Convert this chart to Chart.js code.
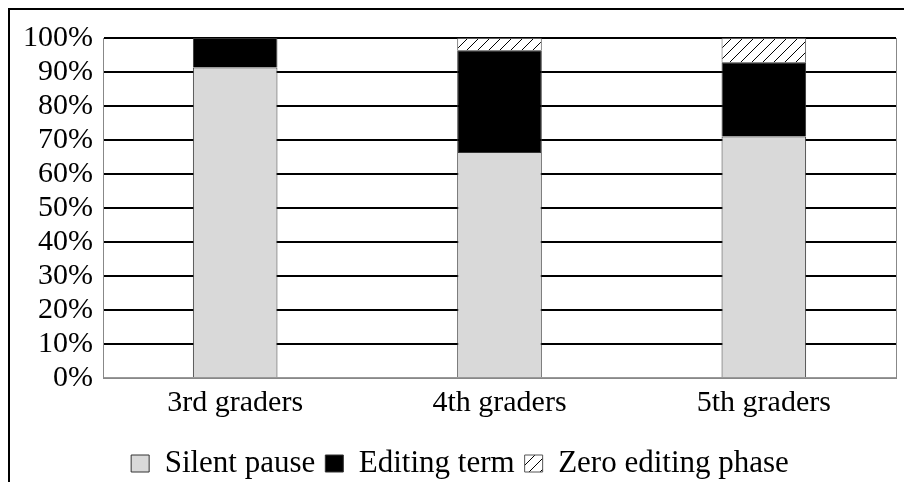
<!DOCTYPE html>
<html>
<head>
<meta charset="utf-8">
<script src="https://cdn.jsdelivr.net/npm/chart.js@4"></script>
<style>
  html, body { margin: 0; padding: 0; background: #fff; overflow: hidden; }
  #cadre { position: absolute; left: 8px; top: 8px; width: 1000px; height: 600px; border: 2px solid #000; }
  #zone { position: absolute; left: 0; top: 0; width: 904px; height: 482px; }
</style>
</head>
<body>
<div id="cadre"></div>
<div id="zone"><canvas id="graphique"></canvas></div>
<script>
'use strict';

/* === DONNÉES === */
const CATEGORIES = ['3rd graders', '4th graders', '5th graders'];
const SILENT_PAUSE = [91.3, 66.5, 71.0];
const EDITING_TERM = [8.7, 29.9, 21.9];
const ZERO_EDITING = [0, 3.6, 7.1];
const TICKS_Y = [0, 10, 20, 30, 40, 50, 60, 70, 80, 90, 100];

const POLICE = '"Liberation Serif", "Times New Roman", serif';

/* === HELPERS === */
function motifHachure() {
  const c = document.createElement('canvas');
  c.width = 11;
  c.height = 11;
  const g = c.getContext('2d');
  g.fillStyle = '#fff';
  g.fillRect(0, 0, 11, 11);
  g.strokeStyle = '#000';
  g.lineWidth = 1;
  g.beginPath();
  g.moveTo(0, 11); g.lineTo(11, 0);
  g.moveTo(-3, 3); g.lineTo(3, -3);
  g.moveTo(8, 14); g.lineTo(14, 8);
  g.stroke();
  return g.createPattern(c, 'repeat');
}

/* === GRAPHIQUE === */
Chart.defaults.font.family = POLICE;
Chart.defaults.color = '#000';

const ctx = document.getElementById('graphique').getContext('2d');
new Chart(ctx, {
  type: 'bar',
  data: {
    labels: CATEGORIES,
    datasets: [
      { label: 'Silent pause', data: SILENT_PAUSE, backgroundColor: '#d9d9d9', borderColor: '#333', borderWidth: 1 },
      { label: 'Editing term', data: EDITING_TERM, backgroundColor: '#000', borderColor: '#333', borderWidth: 1 },
      { label: 'Zero editing phase', data: ZERO_EDITING, backgroundColor: motifHachure(), borderColor: '#555', borderWidth: 1 }
    ]
  },
  options: {
    responsive: true,
    maintainAspectRatio: false,
    animation: false,
    categoryPercentage: 1,
    barPercentage: 0.32,
    layout: { padding: { left: 23, right: 7, top: 38, bottom: -7 } },
    plugins: {
      tooltip: { enabled: false },
      legend: {
        position: 'bottom',
        labels: {
          font: { size: 31 },
          boxWidth: 18,
          boxHeight: 17,
          padding: 10,
          color: '#000'
        }
      }
    },
    scales: {
      x: {
        stacked: true,
        afterFit: s => { s.height = 60; },
        grid: { display: false, drawTicks: false },
        border: { color: '#888', width: 1 },
        ticks: { font: { size: 30 }, padding: 7, color: '#000', maxRotation: 0 }
      },
      y: {
        stacked: true,
        min: 0,
        max: 100,
        afterBuildTicks: s => { s.ticks = TICKS_Y.map(v => ({ value: v })); },
        afterFit: s => { s.width = 80; },
        grid: {
          drawTicks: false,
          lineWidth: 2,
          color: c => (c.tick && c.tick.value === 0 ? '#999' : '#000')
        },
        border: { color: '#888', width: 1 },
        ticks: { font: { size: 30 }, padding: 10, color: '#000', autoSkip: false, callback: v => v + '%' }
      },
      y2: {
        position: 'right',
        min: 0,
        max: 100,
        afterFit: s => { s.width = 1; },
        grid: { display: false, drawTicks: false },
        border: { color: '#888', width: 1 },
        ticks: { display: false }
      }
    }
  }
});
</script>
</body>
</html>
